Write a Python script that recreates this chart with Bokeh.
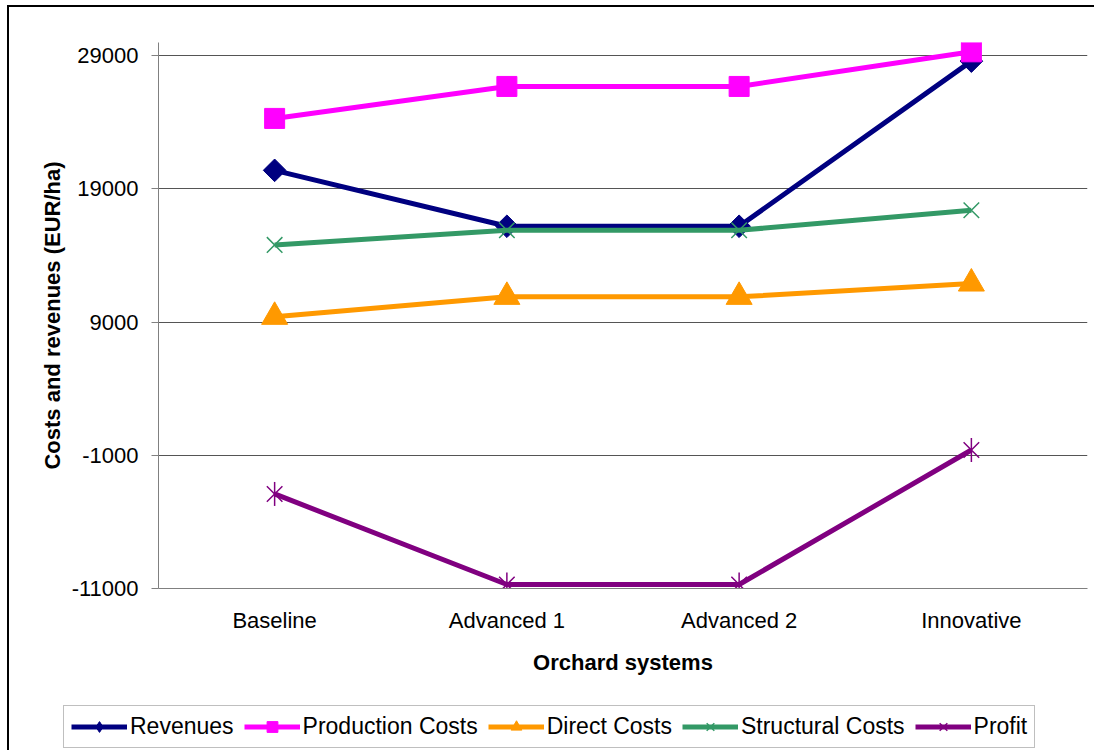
from bokeh.plotting import figure
from bokeh.layouts import column
from bokeh.models import FactorRange, FixedTicker, Legend, LegendItem
from bokeh.embed import file_html
from bokeh.resources import INLINE

# Orchard systems compared
systems = ["Baseline", "Advanced 1", "Advanced 2", "Innovative"]

# EUR per hectare for each system
revenues = [20400, 16200, 16200, 28600]
production_costs = [24300, 26700, 26700, 29300]
direct_costs = [9400, 10900, 10900, 11900]
structural_costs = [14800, 15900, 15900, 17400]
profit = [-3900, -10700, -10700, -600]

y_ticks = [-11000, -1000, 9000, 19000, 29000]
y_tick_text = {t: str(t) for t in y_ticks}

FONT = "Liberation Sans"
LW = 5

# Series styling: name, values, colour, marker layers
series = [
    ("Revenues", revenues, "#000080",
     [dict(marker="square", size=16, angle=0.785398, fill_color="#000080", line_color="#000080")]),
    ("Production Costs", production_costs, "#FF00FF",
     [dict(marker="square", size=20, fill_color="#FF00FF", line_color="#FF00FF")]),
    ("Direct Costs", direct_costs, "#FF9900",
     [dict(marker="triangle", size=26, fill_color="#FF9900", line_color="#FF9900")]),
    ("Structural Costs", structural_costs, "#339966",
     [dict(marker="x", size=22, line_color="#339966", line_width=1.5)]),
    ("Profit", profit, "#800080",
     [dict(marker="x", size=22, line_color="#800080", line_width=1.5),
      dict(marker="dash", size=24, angle=1.570796, line_color="#800080", line_width=1.5)]),
]

p = figure(
    x_range=FactorRange(factors=systems),
    y_range=(-11000, 30000),
    width=1087, height=690,
    output_backend="svg", toolbar_location=None,
    min_border_left=149, min_border_right=9,
    min_border_top=35, min_border_bottom=109,
)

p.outline_line_color = None
p.background_fill_color = "white"
p.border_fill_color = "white"

p.xgrid.grid_line_color = None
p.ygrid.grid_line_color = "#555555"
p.ygrid.grid_line_width = 1
p.yaxis.ticker = FixedTicker(ticks=y_ticks)
p.yaxis.major_label_overrides = y_tick_text

p.yaxis.axis_line_color = "#808080"
p.yaxis.major_tick_line_color = "#808080"
p.yaxis.major_tick_out = 7
p.yaxis.major_tick_in = 0
p.yaxis.minor_tick_line_color = None
p.yaxis.major_label_standoff = 13
p.yaxis.axis_label = "Costs and revenues (EUR/ha)"
p.yaxis.axis_label_standoff = 4

p.xaxis.axis_line_color = "#808080"
p.xaxis.major_tick_line_color = None
p.xaxis.major_tick_out = 0
p.xaxis.major_label_standoff = 19
p.xaxis.axis_label = "Orchard systems"
p.xaxis.axis_label_standoff = 14

for ax in (p.xaxis, p.yaxis):
    ax.major_label_text_font = FONT
    ax.major_label_text_font_size = "22px"
    ax.major_label_text_color = "black"
    ax.axis_label_text_font = FONT
    ax.axis_label_text_font_size = "22px"
    ax.axis_label_text_font_style = "bold"
    ax.axis_label_text_color = "black"

for name, values, color, markers in series:
    p.line(systems, values, line_color=color, line_width=LW)
    for m in markers:
        p.scatter(systems, values, **m)

# Legend strip below the chart; its swatch renderers sit outside the visible range
key = figure(
    width=1087, height=55,
    x_range=(10, 11), y_range=(10, 11),
    x_axis_type=None, y_axis_type=None,
    output_backend="svg", toolbar_location=None,
    min_border_left=0, min_border_right=0, min_border_top=0, min_border_bottom=0,
)
key.outline_line_color = None
key.grid.grid_line_color = None
key.background_fill_color = "white"
key.border_fill_color = "white"

# Keep each figure's frame where its own borders put it
for fig in (p, key):
    if "frame_align" in fig.properties():
        fig.frame_align = False

items = []
for name, values, color, markers in series:
    rs = [key.line([0, 1], [0, 0], line_color=color, line_width=LW)]
    for m in markers:
        swatch = dict(m)
        if name == "Revenues":
            swatch.update(marker="diamond", angle=0)
        rs.append(key.scatter([0], [0], **swatch))
    items.append(LegendItem(label=name, renderers=rs))

legend = Legend(
    items=items,
    orientation="horizontal",
    location=(54, 4),
    margin=0,
    padding=7,
    spacing=10,
    label_standoff=3,
    glyph_width=56,
    glyph_height=27,
    label_text_font=FONT,
    label_text_font_size="23px",
    label_text_color="black",
    border_line_color="#808080",
    border_line_width=1.5,
    background_fill_color="white",
    background_fill_alpha=1.0,
)
key.add_layout(legend, "center")

# Chart-area frame drawn as a shadow on the left and top edges
page = column(p, key, margin=(7, 0, 0, 9), spacing=0,
              styles={"box-shadow": "-2px -2px 0px 0px #000000"})

open("out.html", "w").write(file_html(page, INLINE))
